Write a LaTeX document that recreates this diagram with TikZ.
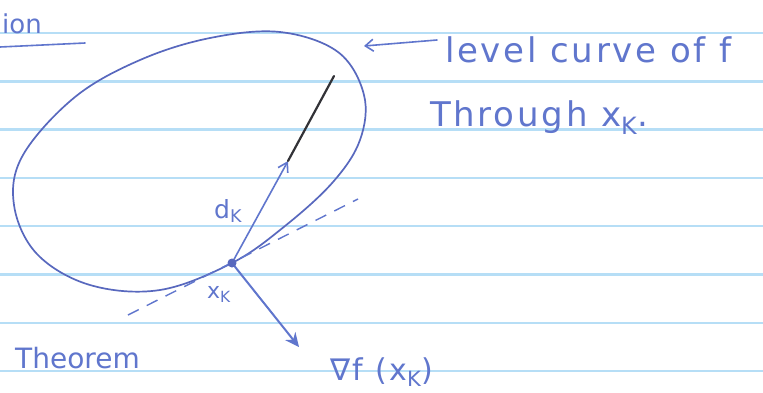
\documentclass[tikz,border=0pt]{standalone}
\usepackage{fontspec}
\setmainfont{DejaVu Sans}
\usetikzlibrary{arrows.meta}
\definecolor{ink}{RGB}{96,118,205}
\definecolor{curveink}{RGB}{88,104,190}
\definecolor{ruleblue}{RGB}{182,222,246}
\definecolor{pencil}{RGB}{50,50,55}
\begin{document}
\begin{tikzpicture}[x=1pt,y=-1pt,
  hand/.style={text=ink, inner sep=0pt, anchor=base west},
  pen/.style={draw=ink, line width=1.6pt, line cap=round},
  ruleline/.style={draw=ruleblue, line width=2.4pt}]
\useasboundingbox (0,0) rectangle (763,392);
\fill[white] (0,0) rectangle (763,392);
% ruled paper
\foreach \i in {0,...,7} \draw[ruleline] (0,33+48.3*\i) -- (763,33+48.3*\i);
% level curve
\draw[draw=curveink, line width=1.7pt] plot[smooth cycle, tension=0.6] coordinates {
 (232,263) (285,226) (333,182) (360,140) (364,95) (338,52) (280,32) (210,38)
 (140,60) (75,97) (23,155) (14,205) (37,254) (90,285) (160,290)};
% points
\coordinate (xk) at (232,263);
\coordinate (dtip) at (288,161);
\coordinate (pend) at (334,76);
\coordinate (gtip) at (299,347);
\coordinate (tA) at (128,315);
\coordinate (tB) at (358,199);
\coordinate (uA) at (0,47);
\coordinate (uB) at (85,43);
\coordinate (lA) at (437,40);
\coordinate (lB) at (364,46);
% tangent line
\draw[draw=ink, line width=1.4pt, dash pattern=on 12pt off 9pt] (tA) -- (tB);
% direction d_k
\draw[pen, -{Straight Barb[length=9pt,width=11pt]}] (xk) -- (dtip);
\draw[draw=pencil, line width=2.2pt, line cap=round] (dtip) -- (pend);
% gradient
\draw[pen, line width=2pt, -{Stealth[length=14pt,width=13pt]}] (xk) -- (gtip);
\fill[curveink] (xk) circle (4.5pt);
% arrow from text to curve
\draw[pen, -{Straight Barb[length=8pt,width=12pt]}] (lA) -- (lB);
% underline
\draw[pen] (uA) -- (uB);
% texts
\node[hand, font=\fontsize{26}{30}\selectfont] (ion) at (2,33) {ion};
\node[hand, font=\fontsize{34}{38}\selectfont\addfontfeature{LetterSpace=8}] (lvl) at (445,62) {level curve of f};
\node[hand, font=\fontsize{34}{38}\selectfont\addfontfeature{LetterSpace=8}] (thr) at (430,126) {Through x\textsubscript{K}.};
\node[hand, font=\fontsize{25}{28}\selectfont] (dk) at (214,218) {d\textsubscript{K}};
\node[hand, font=\fontsize{22}{26}\selectfont] (xkl) at (207,298) {x\textsubscript{K}};
\node[hand, font=\fontsize{28}{32}\selectfont] (thm) at (15,368) {Theorem};
\node[hand, font=\fontsize{30}{34}\selectfont\addfontfeature{LetterSpace=8}] (grad) at (330,380) {∇f (x\textsubscript{K})};
\end{tikzpicture}
\end{document}
